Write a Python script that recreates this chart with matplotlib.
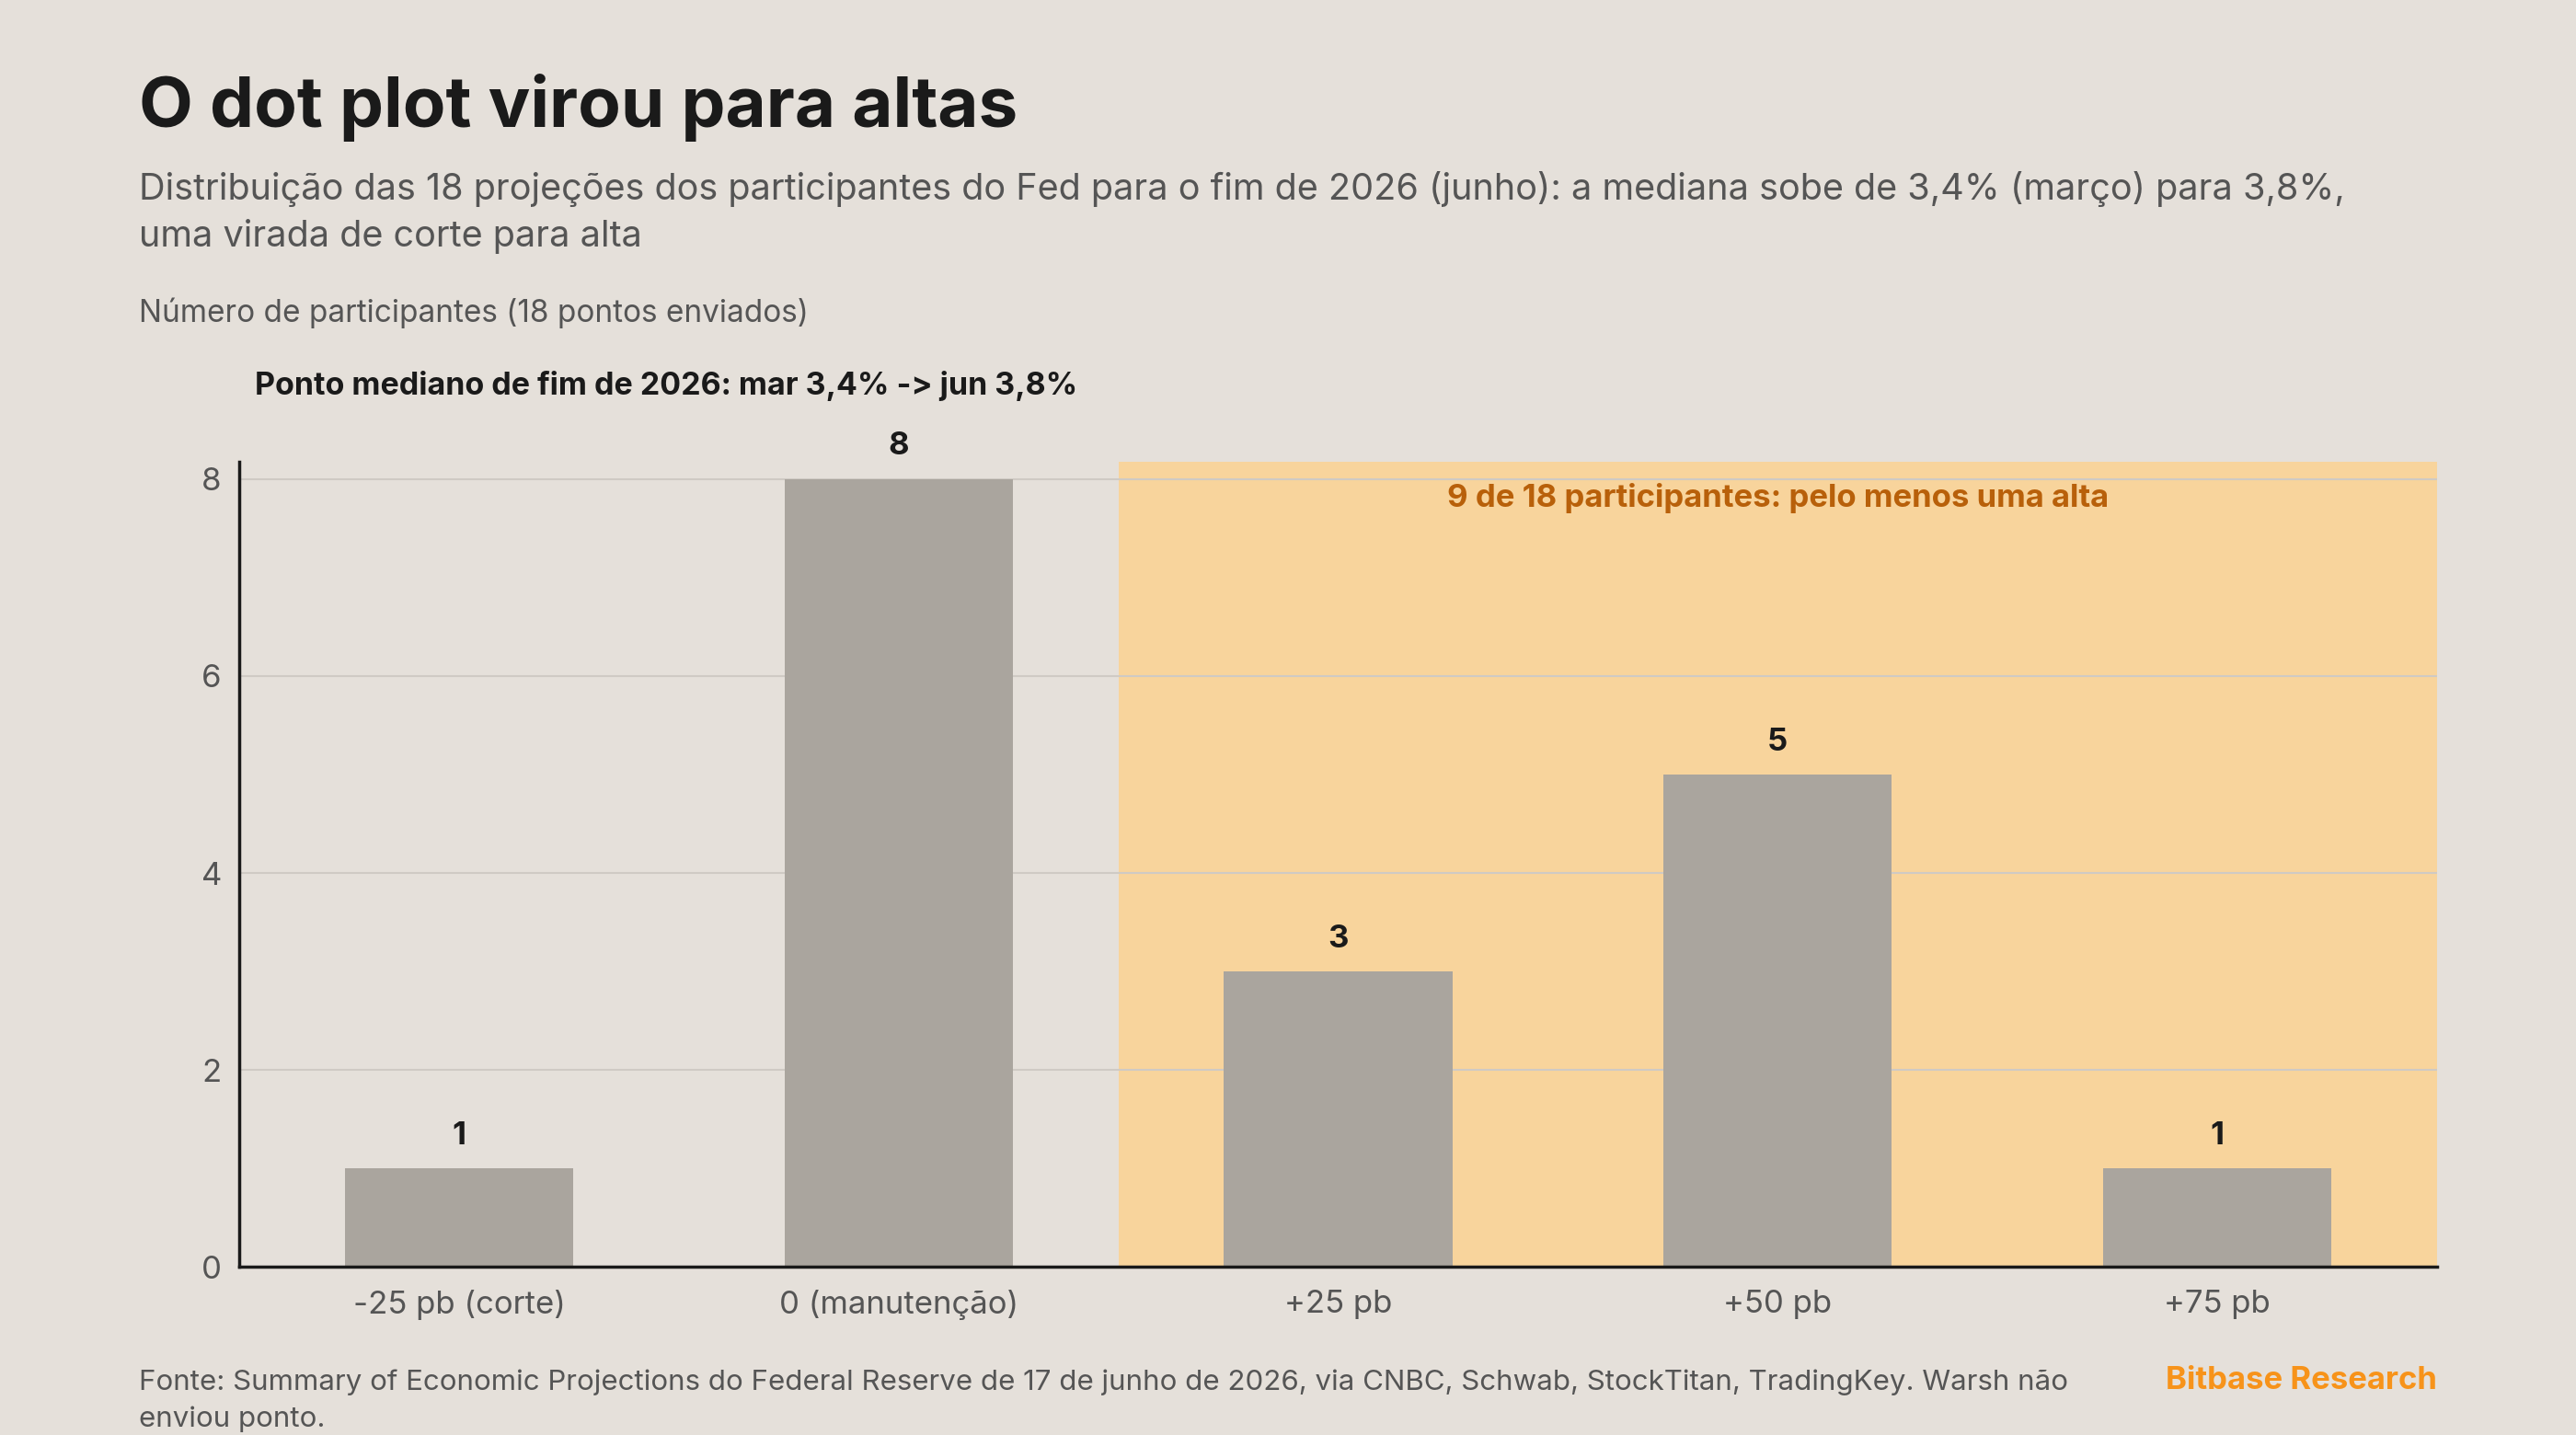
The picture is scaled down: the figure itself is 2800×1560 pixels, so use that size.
import matplotlib
matplotlib.use("Agg")
import matplotlib.pyplot as plt

categories = ["-25 pb (corte)", "0 (manutenção)", "+25 pb", "+50 pb", "+75 pb"]
counts = [1, 8, 3, 5, 1]
yticks = [0, 2, 4, 6, 8]

BG = "#e5e0da"
plt.rcParams['font.family'] = ['Inter', 'DejaVu Sans']
fig = plt.figure(figsize=(28, 15.6), dpi=100, facecolor=BG)
ax = fig.add_axes([0.093, 0.117, 0.853, 0.561], facecolor=BG)

x = list(range(len(categories)))
ax.axvspan(1.5, 4.5, color="#f8d49c", zorder=0, lw=0)
ax.bar(x, counts, width=0.52, color="#aaa59e", zorder=2)
for xi, c in zip(x, counts):
    ax.text(xi, c + 0.18, str(c), ha="center", va="bottom", fontsize=25, fontweight="bold", color="#1a1a1a")
ax.set_xlim(-0.5, 4.5)
ax.set_ylim(0, 8.17)
ax.set_yticks(yticks)
ax.set_xticks(x)
ax.set_xticklabels(categories)
ax.tick_params(axis="both", length=0, labelsize=25, labelcolor="#555555")
ax.tick_params(axis="x", pad=18)
ax.tick_params(axis="y", pad=14)
ax.grid(axis="y", color="#cfcac4", lw=1.5, zorder=1)
for s in ["top", "right"]:
    ax.spines[s].set_visible(False)
for s in ["left", "bottom"]:
    ax.spines[s].set_color("#1a1a1a")
    ax.spines[s].set_linewidth(2.5)
ax.text(3.0, 7.8, "9 de 18 participantes: pelo menos uma alta", ha="center", va="center",
        fontsize=25, fontweight="bold", color="#b8600a")

fig.text(0.054, 0.925, "O dot plot virou para altas", fontsize=55, fontweight="bold", color="#1a1a1a", va="center")
fig.text(0.054, 0.852, "Distribuição das 18 projeções dos participantes do Fed para o fim de 2026 (junho): a mediana sobe de 3,4% (março) para 3,8%,\numa virada de corte para alta",
         fontsize=28.5, color="#555555", va="center", linespacing=1.45)
fig.text(0.054, 0.782, "Número de participantes (18 pontos enviados)", fontsize=24, color="#555555", va="center")
fig.text(0.099, 0.731, "Ponto mediano de fim de 2026: mar 3,4% -> jun 3,8%", fontsize=24.5, fontweight="bold", color="#1a1a1a", va="center")
fig.text(0.054, 0.002, "Fonte: Summary of Economic Projections do Federal Reserve de 17 de junho de 2026, via CNBC, Schwab, StockTitan, TradingKey. Warsh não\nenviou ponto.",
         fontsize=22.5, color="#555555", va="bottom", linespacing=1.5)
fig.text(0.946, 0.038, "Bitbase Research", fontsize=25, fontweight="bold", color="#f7931a", ha="right", va="center")

fig.savefig("out.png", facecolor=BG)
